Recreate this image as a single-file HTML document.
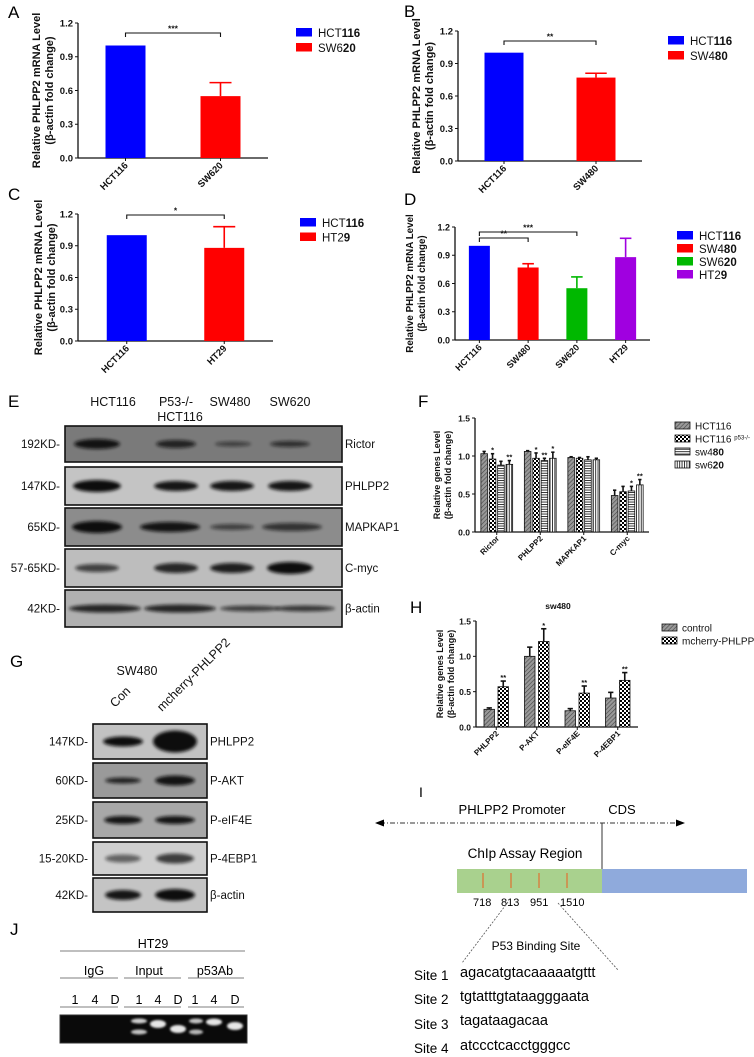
<!DOCTYPE html>
<html><head><meta charset="utf-8">
<style>
html,body{margin:0;padding:0;background:#fff;}
svg{display:block;font-family:"Liberation Sans",Arial,sans-serif;}
.lt{font-size:17px;fill:#000;}
.tk{font-size:9px;font-weight:bold;fill:#111;}
.yt{font-weight:bold;fill:#111;}
.lg{font-size:11.5px;fill:#111;}
.bl{font-size:11.5px;fill:#111;}
.cal{font-family:"Liberation Sans",sans-serif;}
</style></head>
<body>
<svg id="fig" width="754" height="1057" viewBox="0 0 754 1057">
<defs>
<pattern id="hatch" width="3" height="3" patternUnits="userSpaceOnUse" patternTransform="rotate(45)"><rect width="3" height="3" fill="#999"/><line x1="0" y1="0" x2="0" y2="3" stroke="#444" stroke-width="1.2"/></pattern>
<pattern id="check" width="4" height="4" patternUnits="userSpaceOnUse"><rect width="4" height="4" fill="#fff"/><rect width="2" height="2" fill="#000"/><rect x="2" y="2" width="2" height="2" fill="#000"/></pattern>
<pattern id="hstripe" width="4" height="2.4" patternUnits="userSpaceOnUse"><rect width="4" height="2.4" fill="#fff"/><rect width="4" height="0.9" fill="#222"/></pattern>
<pattern id="vstripe" width="2.4" height="4" patternUnits="userSpaceOnUse"><rect width="2.4" height="4" fill="#fff"/><rect width="0.9" height="4" fill="#222"/></pattern>
<filter id="blur" x="-20%" y="-50%" width="140%" height="200%"><feGaussianBlur stdDeviation="1.6"/></filter>
<filter id="blur2" x="-20%" y="-50%" width="140%" height="200%"><feGaussianBlur stdDeviation="1"/></filter>
</defs>

<text class="lt" x="8" y="18">A</text>
<text class="lt" x="404" y="17">B</text>
<text class="lt" x="8" y="200">C</text>
<text class="lt" x="404" y="205">D</text>
<text class="lt" x="8" y="407">E</text>
<text class="lt" x="418" y="407">F</text>
<text class="lt" x="10" y="667">G</text>
<text class="lt" x="410" y="613">H</text>
<text class="lt" x="419" y="797" style="font-size:14px">I</text>
<text class="lt" x="10" y="935">J</text>

<g id="charts"></g>

<g>
<text class="bl" x="113" y="406" text-anchor="middle" style="font-size:12.5px">HCT116</text>
<text class="bl" x="176" y="406" text-anchor="middle" style="font-size:12.5px">P53-/-</text>
<text class="bl" x="180" y="421" text-anchor="middle" style="font-size:12.5px">HCT116</text>
<text class="bl" x="230" y="406" text-anchor="middle" style="font-size:12.5px">SW480</text>
<text class="bl" x="290" y="406" text-anchor="middle" style="font-size:12.5px">SW620</text>
<g id="blotE"></g>
</g>

<g>
<text class="bl" x="137" y="675" text-anchor="middle" style="font-size:12.5px">SW480</text>
<text class="bl" x="115" y="708" transform="rotate(-45 115 708)" style="font-size:12.5px">Con</text>
<text class="bl" x="162" y="712" transform="rotate(-45 162 712)" style="font-size:12.5px">mcherry-PHLPP2</text>
<g id="blotG"></g>
</g>

<g class="cal">
<text x="512" y="814" text-anchor="middle" style="font-size:13px">PHLPP2 Promoter</text>
<text x="622" y="814" text-anchor="middle" style="font-size:13px">CDS</text>
<line x1="380" y1="823" x2="680" y2="823" stroke="#333" stroke-width="1" stroke-dasharray="5,2,1,2"/>
<polygon points="375,823 384,819.5 384,826.5" fill="#000"/>
<polygon points="685,823 676,819.5 676,826.5" fill="#000"/>
<line x1="602" y1="823" x2="602" y2="870" stroke="#333" stroke-width="1"/>
<text x="525" y="858" text-anchor="middle" style="font-size:13.5px">ChIp Assay Region</text>
<rect x="457" y="869" width="145" height="24" fill="#a9d18e"/>
<rect x="602" y="869" width="145" height="24" fill="#8faadc"/>
<line x1="483" y1="873" x2="483" y2="888" stroke="#e07030" stroke-width="1.2"/>
<line x1="511" y1="873" x2="511" y2="888" stroke="#e07030" stroke-width="1.2"/>
<line x1="539" y1="873" x2="539" y2="888" stroke="#e07030" stroke-width="1.2"/>
<line x1="567" y1="873" x2="567" y2="888" stroke="#e07030" stroke-width="1.2"/>
<text x="473" y="906" style="font-size:11px">718</text>
<text x="501" y="906" style="font-size:11px">813</text>
<text x="530" y="906" style="font-size:11px">951</text>
<text x="560" y="906" style="font-size:11px">1510</text>
<line x1="508" y1="902" x2="462" y2="963" stroke="#555" stroke-width="0.8" stroke-dasharray="2,1.5"/>
<line x1="558" y1="903" x2="618" y2="970" stroke="#555" stroke-width="0.8" stroke-dasharray="2,1.5"/>
<text x="536" y="950" text-anchor="middle" style="font-size:12px">P53 Binding Site</text>
<g style="font-size:13.5px">
<text x="414" y="980">Site 1</text>
<text x="460" y="977" style="font-size:14.5px">agacatgtacaaaaatgttt</text>
<text x="414" y="1004">Site 2</text>
<text x="460" y="1001" style="font-size:14.5px">tgtatttgtataagggaata</text>
<text x="414" y="1029">Site 3</text>
<text x="460" y="1025" style="font-size:14.5px">tagataagacaa</text>
<text x="414" y="1053">Site 4</text>
<text x="460" y="1050" style="font-size:14.5px">atccctcacctgggcc</text>
</g>
</g>

<g class="cal">
<text x="153" y="948" text-anchor="middle" style="font-size:12.5px">HT29</text>
<line x1="60" y1="951" x2="245" y2="951" stroke="#555" stroke-width="0.8"/>
<text x="94" y="975" text-anchor="middle" style="font-size:12.5px">IgG</text>
<text x="149" y="975" text-anchor="middle" style="font-size:12.5px">Input</text>
<text x="215" y="975" text-anchor="middle" style="font-size:12.5px">p53Ab</text>
<line x1="60" y1="978" x2="118" y2="978" stroke="#555" stroke-width="0.8"/>
<line x1="124" y1="978" x2="181" y2="978" stroke="#555" stroke-width="0.8"/>
<line x1="188" y1="978" x2="244" y2="978" stroke="#555" stroke-width="0.8"/>
<g style="font-size:12.5px" text-anchor="middle" id="laneNums"></g>
<line x1="60" y1="1007" x2="118" y2="1007" stroke="#555" stroke-width="0.8"/>
<line x1="124" y1="1007" x2="181" y2="1007" stroke="#555" stroke-width="0.8"/>
<line x1="188" y1="1007" x2="244" y2="1007" stroke="#555" stroke-width="0.8"/>
<rect x="60" y="1015" width="187" height="28" fill="#0a0a0a" stroke="#333" stroke-width="1"/>
<g id="gelBands"></g>
</g>
</svg>

<script>
// ---------- data ----------
var catsA = ["HCT116","SW620"];
var valsA = [1.0, 0.55];
var errA = [0, 0.12];
var catsB = ["HCT116","SW480"];
var valsB = [1.0, 0.77];
var errB = [0, 0.04];
var catsC = ["HCT116","HT29"];
var valsC = [1.0, 0.88];
var errC = [0, 0.20];
var catsD = ["HCT116","SW480","SW620","HT29"];
var valsD = [1.0, 0.77, 0.55, 0.88];
var errD = [0, 0.04, 0.12, 0.20];
var ticksABCD = [0.0, 0.3, 0.6, 0.9, 1.2];
var tickLabelsABCD = ["0.0","0.3","0.6","0.9","1.2"];

var catsF = ["Rictor","PHLPP2","MAPKAP1","C-myc"];
var seriesNamesF = ["HCT116","HCT116 p53-/-","sw480","sw620"];
var valsF_hct116 = [1.03, 1.06, 0.98, 0.48];
var valsF_p53 = [0.96, 0.97, 0.97, 0.53];
var valsF_sw480 = [0.88, 0.94, 0.95, 0.54];
var valsF_sw620 = [0.89, 0.97, 0.95, 0.62];
var errF_hct116 = [0.03, 0.01, 0.01, 0.07];
var errF_p53 = [0.07, 0.07, 0.01, 0.07];
var errF_sw480 = [0.05, 0.03, 0.04, 0.06];
var errF_sw620 = [0.05, 0.08, 0.02, 0.07];
var starsF_p53 = ["*","*","",""];
var starsF_sw480 = ["","**","","*"];
var starsF_sw620 = ["**","*","","**"];

var catsH = ["PHLPP2","P-AKT","P-eIF4E","P-4EBP1"];
var valsH_control = [0.25, 1.00, 0.23, 0.41];
var errH_control = [0.02, 0.13, 0.03, 0.08];
var valsH_mcherry = [0.57, 1.21, 0.48, 0.66];
var errH_mcherry = [0.08, 0.18, 0.10, 0.11];
var starsH_mcherry = ["**","*","**","**"];
var ticksFH = [0.0, 0.5, 1.0, 1.5];
var tickLabelsFH = ["0.0","0.5","1.0","1.5"];

// ---------- helpers ----------
var NS = "http://www.w3.org/2000/svg";
function mk(tag, attrs, parent){
  var e = document.createElementNS(NS, tag);
  for (var k in attrs) e.setAttribute(k, attrs[k]);
  parent.appendChild(e);
  return e;
}
var root = document.getElementById("charts");

function makeAxes(g, c, ticks, labels, name){
  var ys = function(v){ return c.y0 - (v / c.ymax) * (c.y0 - c.yTop); };
  var ax = mk("line", {x1:c.x0, y1:c.yTop, x2:c.x0, y2:c.y0, stroke:"#111", "stroke-width":1.3}, g);
  
  
  var xa = mk("line", {x1:c.x0, y1:c.y0, x2:c.x1, y2:c.y0, stroke:"#111", "stroke-width":1.3}, g);
  
  
  for (var i=0;i<ticks.length;i++){
    var y = ys(ticks[i]);
    var t = mk("line", {x1:c.x0-3, y1:y, x2:c.x0, y2:y, stroke:"#111", "stroke-width":1}, g);
    
    
    var tl = mk("text", {x:c.x0-5, y:y+3.3, "text-anchor":"end", "class":"tk", style:"font-size:"+c.tkSize+"px"}, g);
    tl.textContent = labels[i];
    
    
  }
  var yt = mk("text", {"text-anchor":"middle", "class":"yt", transform:"translate("+c.ytX+","+((c.yTop+c.y0)/2)+") rotate(-90)", style:"font-size:"+c.ytSize+"px"}, g);
  var s1 = mk("tspan", {x:0, dy:0}, yt); s1.textContent = c.ytitle1;
  var s2 = mk("tspan", {x:0, dy:c.ytSize+2}, yt); s2.textContent = "(β-actin fold change)";
  
  
  return ys;
}

function catLabel(g, x, y, txt, name, size){
  var t = mk("text", {x:x, y:y, "text-anchor":"end", "class":"tk", transform:"rotate(-45 "+x+" "+y+")", style:"font-size:"+size+"px"}, g);
  t.textContent = txt;
  
  
}

function errBar(g, cx, yv, ye, capW, color, name){
  var l = mk("line", {x1:cx, y1:yv, x2:cx, y2:ye, stroke:color, "stroke-width":1.6}, g);
  
  
  var c = mk("line", {x1:cx-capW/2, y1:ye, x2:cx+capW/2, y2:ye, stroke:color, "stroke-width":1.6}, g);
  
  
}

var boldSplit = {"HCT116":3, "SW620":3, "SW480":3, "HT29":3};
function legendRich(g, x, y, label, color, name){
  var r = mk("rect", {x:x, y:y, width:16, height:8.5, fill:color}, g);
  
  
  var t = mk("text", {x:x+22, y:y+9, "class":"lg"}, g);
  var k = boldSplit[label] || label.length;
  var a = mk("tspan", {}, t); a.textContent = label.slice(0, k);
  var b = mk("tspan", {"font-weight":"bold"}, t); b.textContent = label.slice(k);
  
  
}

function simpleBars(name, c, cats, vals, errs, colors){
  var g = mk("g", {}, root);
  
  
  var ys = makeAxes(g, c, ticksABCD, tickLabelsABCD, name);
  var band = (c.x1 - c.x0) / cats.length;
  for (var i=0;i<cats.length;i++){
    var cx = c.x0 + band*(i+0.5);
    var y = ys(vals[i]);
    if (errs[i] > 0) errBar(g, cx, y, ys(vals[i]+errs[i]), c.bw*0.55, colors[i], name + '-' + cats[i]);
    var b = mk("rect", {x:cx-c.bw/2, y:y, width:c.bw, height:c.y0-y, fill:colors[i]}, g);
    
    
    var tk = mk("line", {x1:cx, y1:c.y0, x2:cx, y2:c.y0+3, stroke:"#111"}, g);
    
    
    catLabel(g, cx+3, c.y0+8, cats[i], name, c.catSize);
    legendRich(g, c.legX, c.legY + i*c.legStep, cats[i], colors[i], name + '-' + cats[i].toLowerCase());
  }
  return {g:g, ys:ys, band:band};
}

function bracket(g, xa, xb, y, stars, name){
  var p = mk("path", {d:"M"+xa+","+(y+4)+" V"+y+" H"+xb+" V"+(y+4), fill:"none", stroke:"#111", "stroke-width":1.1}, g);
  
  
  var t = mk("text", {x:(xa+xb)/2, y:y-1.5, "text-anchor":"middle", "class":"tk", style:"font-size:8.5px"}, g);
  t.textContent = stars;
  
  
}

var cfgA = {x0:78, x1:268, y0:158, yTop:23, ymax:1.2, bw:40, ytX:40, ytSize:11, tkSize:9.5, catSize:9.5, ytitle1:"Relative PHLPP2 mRNA Level", legX:296, legY:28, legStep:15};
var rA = simpleBars("chart-a", cfgA, catsA, valsA, errA, ["#0000ff","#ff0000"]);
bracket(rA.g, cfgA.x0+rA.band*0.5, cfgA.x0+rA.band*1.5, 33, "***", "chart-a");
var cfgB = {x0:458, x1:642, y0:161, yTop:31, ymax:1.2, bw:39, ytX:420, ytSize:11, tkSize:9.5, catSize:9.5, ytitle1:"Relative PHLPP2 mRNA Level", legX:668, legY:36, legStep:15};
var rB = simpleBars("chart-b", cfgB, catsB, valsB, errB, ["#0000ff","#ff0000"]);
bracket(rB.g, cfgB.x0+rB.band*0.5, cfgB.x0+rB.band*1.5, 41, "**", "chart-b");
var cfgC = {x0:78, x1:273, y0:341, yTop:214, ymax:1.2, bw:40, ytX:42, ytSize:11, tkSize:9.5, catSize:9.5, ytitle1:"Relative PHLPP2 mRNA Level", legX:300, legY:218, legStep:14.5};
var rC = simpleBars("chart-c", cfgC, catsC, valsC, errC, ["#0000ff","#ff0000"]);
bracket(rC.g, cfgC.x0+rC.band*0.5, cfgC.x0+rC.band*1.5, 215, "*", "chart-c");
var cfgD = {x0:455, x1:650, y0:340, yTop:227, ymax:1.2, bw:21, ytX:413, ytSize:9.8, tkSize:9, catSize:9, ytitle1:"Relative PHLPP2 mRNA Level", legX:677, legY:231, legStep:13};
var rD = simpleBars("chart-d", cfgD, catsD, valsD, errD, ["#0000ff","#ff0000","#00b800","#a000e0"]);
bracket(rD.g, cfgD.x0+rD.band*0.5, cfgD.x0+rD.band*2.5, 232, "***", "chart-d");
bracket(rD.g, cfgD.x0+rD.band*0.5, cfgD.x0+rD.band*1.5, 238, "**", "chart-d-2");

function groupedBars(name, c, cats, seriesVals, seriesErr, seriesStars, fills, legendNames){
  var g = mk("g", {}, root);
  
  
  var ys = makeAxes(g, c, ticksFH, tickLabelsFH, name);
  var band = (c.x1 - c.x0) / cats.length;
  var ns = seriesVals.length;
  for (var i=0;i<cats.length;i++){
    var cx = c.x0 + band*(i+0.5);
    for (var s=0;s<ns;s++){
      var bx = cx + (s - (ns-1)/2) * c.step;
      var y = ys(seriesVals[s][i]);
      var ye = ys(seriesVals[s][i] + seriesErr[s][i]);
      errBar(g, bx, y, ye, c.bw*0.5, "#111", name + '-' + cats[i]);
      var b = mk("rect", {x:bx-c.bw/2, y:y, width:c.bw, height:c.y0-y, fill:fills[s], stroke:"#111", "stroke-width":0.8}, g);
      
      
      var st = seriesStars[s] ? seriesStars[s][i] : "";
      if (st){
        var t = mk("text", {x:bx, y:ye-1, "text-anchor":"middle", "class":"tk", style:"font-size:7.5px"}, g);
        t.textContent = st;
        
        
      }
    }
    var tk = mk("line", {x1:cx, y1:c.y0, x2:cx, y2:c.y0+3, stroke:"#111"}, g);
    
    
    catLabel(g, cx+3, c.y0+7, cats[i], name, 8);
  }
  for (var s2=0;s2<legendNames.length;s2++){
    var ly = c.legY + s2*c.legStep;
    var r = mk("rect", {x:c.legX, y:ly, width:15, height:7, fill:fills[s2], stroke:"#111", "stroke-width":0.8}, g);
    
    
    var lt = mk("text", {x:c.legX+20, y:ly+7.5, "class":"lg", style:"font-size:10px"}, g);
    var nm = legendNames[s2];
    if (nm.indexOf(" p53") > 0){
      var a = mk("tspan", {}, lt); a.textContent = "HCT116 ";
      var b2 = mk("tspan", {dy:-3, style:"font-size:6px"}, lt); b2.textContent = "p53-/-";
    } else if (/620$|480$/.test(nm)) {
      var a2 = mk("tspan", {}, lt); a2.textContent = nm.slice(0, nm.length-2);
      var b3 = mk("tspan", {"font-weight":"bold"}, lt); b3.textContent = nm.slice(-2);
    } else { lt.textContent = nm; }
    
    
  }
  return g;
}

var cfgF = {x0:475, x1:649, y0:532, yTop:418, ymax:1.5, bw:6.6, step:8.4, ytX:440, ytSize:9, tkSize:8.5, ytitle1:"Relative genes Level", legX:675, legY:422, legStep:13};
groupedBars("chart-f", cfgF, catsF,
  [valsF_hct116, valsF_p53, valsF_sw480, valsF_sw620],
  [errF_hct116, errF_p53, errF_sw480, errF_sw620],
  [null, starsF_p53, starsF_sw480, starsF_sw620],
  ["url(#hatch)","url(#check)","url(#hstripe)","url(#vstripe)"], seriesNamesF);

var cfgH = {x0:476, x1:638, y0:727, yTop:621, ymax:1.5, bw:10.5, step:14, ytX:443, ytSize:9, tkSize:8.5, ytitle1:"Relative genes Level", legX:662, legY:624, legStep:13};
var gH = groupedBars("chart-h", cfgH, catsH,
  [valsH_control, valsH_mcherry],
  [errH_control, errH_mcherry],
  [null, starsH_mcherry],
  ["url(#hatch)","url(#check)"], ["control","mcherry-PHLPP2"]);
var hT = mk("text", {x:558, y:609, "text-anchor":"middle", "class":"tk", style:"font-size:8.5px"}, gH);
hT.textContent = "sw480";



// ---------- blots ----------
function blot(parent, x, y, w, h, bg, bands, leftLabel, rightLabel, name, labX, rightX){
  var g = mk("g", {}, parent);
  
  
  var r = mk("rect", {x:x, y:y, width:w, height:h, fill:bg, stroke:"#111", "stroke-width":1.6}, g);
  
  
  for (var i=0;i<bands.length;i++){
    var b = bands[i];
    var e = mk("ellipse", {cx:b[0], cy:y+h/2, rx:b[1], ry:b[2], fill:"#111", opacity:b[3], filter:"url(#blur)"}, g);
    
    
  }
  var l = mk("text", {x:labX, y:y+h/2+4, "text-anchor":"end", "class":"bl"}, g);
  l.textContent = leftLabel;
  
  
  var rl = mk("text", {x:rightX, y:y+h/2+4, "class":"bl"}, g);
  rl.textContent = rightLabel;
  
  
}
var bE = document.getElementById("blotE");
blot(bE, 65, 426, 277, 36, "#7a7a7a", [[97,23,5,0.95],[176,20,4,0.8],[233,18,2.5,0.55],[290,20,3,0.7]], "192KD-", "Rictor", "blot-e-rictor", 60, 345);
blot(bE, 65, 467, 277, 38, "#c4c4c4", [[97,24,6,1],[176,22,5,0.95],[232,22,5,0.95],[290,22,5,0.95]], "147KD-", "PHLPP2", "blot-e-phlpp2", 60, 345);
blot(bE, 65, 508, 277, 38, "#8c8c8c", [[97,25,6,1],[170,30,5,0.95],[232,22,3,0.6],[292,30,4,0.7]], "65KD-", "MAPKAP1", "blot-e-mapkap1", 60, 345);
blot(bE, 65, 549, 277, 38, "#bdbdbd", [[97,22,4,0.7],[176,22,5,0.85],[232,22,5,0.9],[290,23,6,1]], "57-65KD-", "C-myc", "blot-e-cmyc", 60, 345);
blot(bE, 65, 590, 277, 37, "#b0b0b0", [[105,36,4,0.85],[180,36,4,0.85],[250,30,3,0.7],[305,30,3,0.75]], "42KD-", "β-actin", "blot-e-actin", 60, 345);

var bG = document.getElementById("blotG");
blot(bG, 93, 724, 114, 35, "#c2c2c2", [[123,20,5,1],[175,22,11,1]], "147KD-", "PHLPP2", "blot-g-phlpp2", 88, 210);
blot(bG, 93, 763, 114, 35, "#9a9a9a", [[123,18,3,0.85],[175,20,5,0.95]], "60KD-", "P-AKT", "blot-g-pakt", 88, 210);
blot(bG, 93, 802, 114, 36, "#a8a8a8", [[123,19,4,0.95],[175,20,4,0.95]], "25KD-", "P-eIF4E", "blot-g-peif4e", 88, 210);
blot(bG, 93, 842, 114, 33, "#cfcfcf", [[123,18,4,0.55],[175,19,5,0.75]], "15-20KD-", "P-4EBP1", "blot-g-p4ebp1", 88, 210);
blot(bG, 93, 878, 114, 34, "#c4c4c4", [[123,18,5,0.95],[175,20,6,1]], "42KD-", "β-actin", "blot-g-actin", 88, 210);

// ---------- gel J ----------
var laneX = [75,95,115,139,158,178,195,214,235];
var laneTxt = ["1","4","D","1","4","D","1","4","D"];
var ln = document.getElementById("laneNums");
for (var i=0;i<laneX.length;i++){
  var t = mk("text", {x:laneX[i], y:1004}, ln);
  t.textContent = laneTxt[i];
  
  
}
var gb = document.getElementById("gelBands");
var gelB = [[139,1021,8,2.5,0.85],[139,1032,8,2.5,0.8],[158,1024,8,4,0.95],[178,1029,8,4,0.95],[196,1021,7,2.5,0.8],[196,1032,7,2.5,0.75],[214,1022,8,3.5,0.95],[235,1026,8,4,0.95]];
for (var j=0;j<gelB.length;j++){
  var e = mk("ellipse", {cx:gelB[j][0], cy:gelB[j][1], rx:gelB[j][2], ry:gelB[j][3], fill:"#f2f2f2", opacity:gelB[j][4], filter:"url(#blur2)"}, gb);
  
  
}
</script>
</body></html>
